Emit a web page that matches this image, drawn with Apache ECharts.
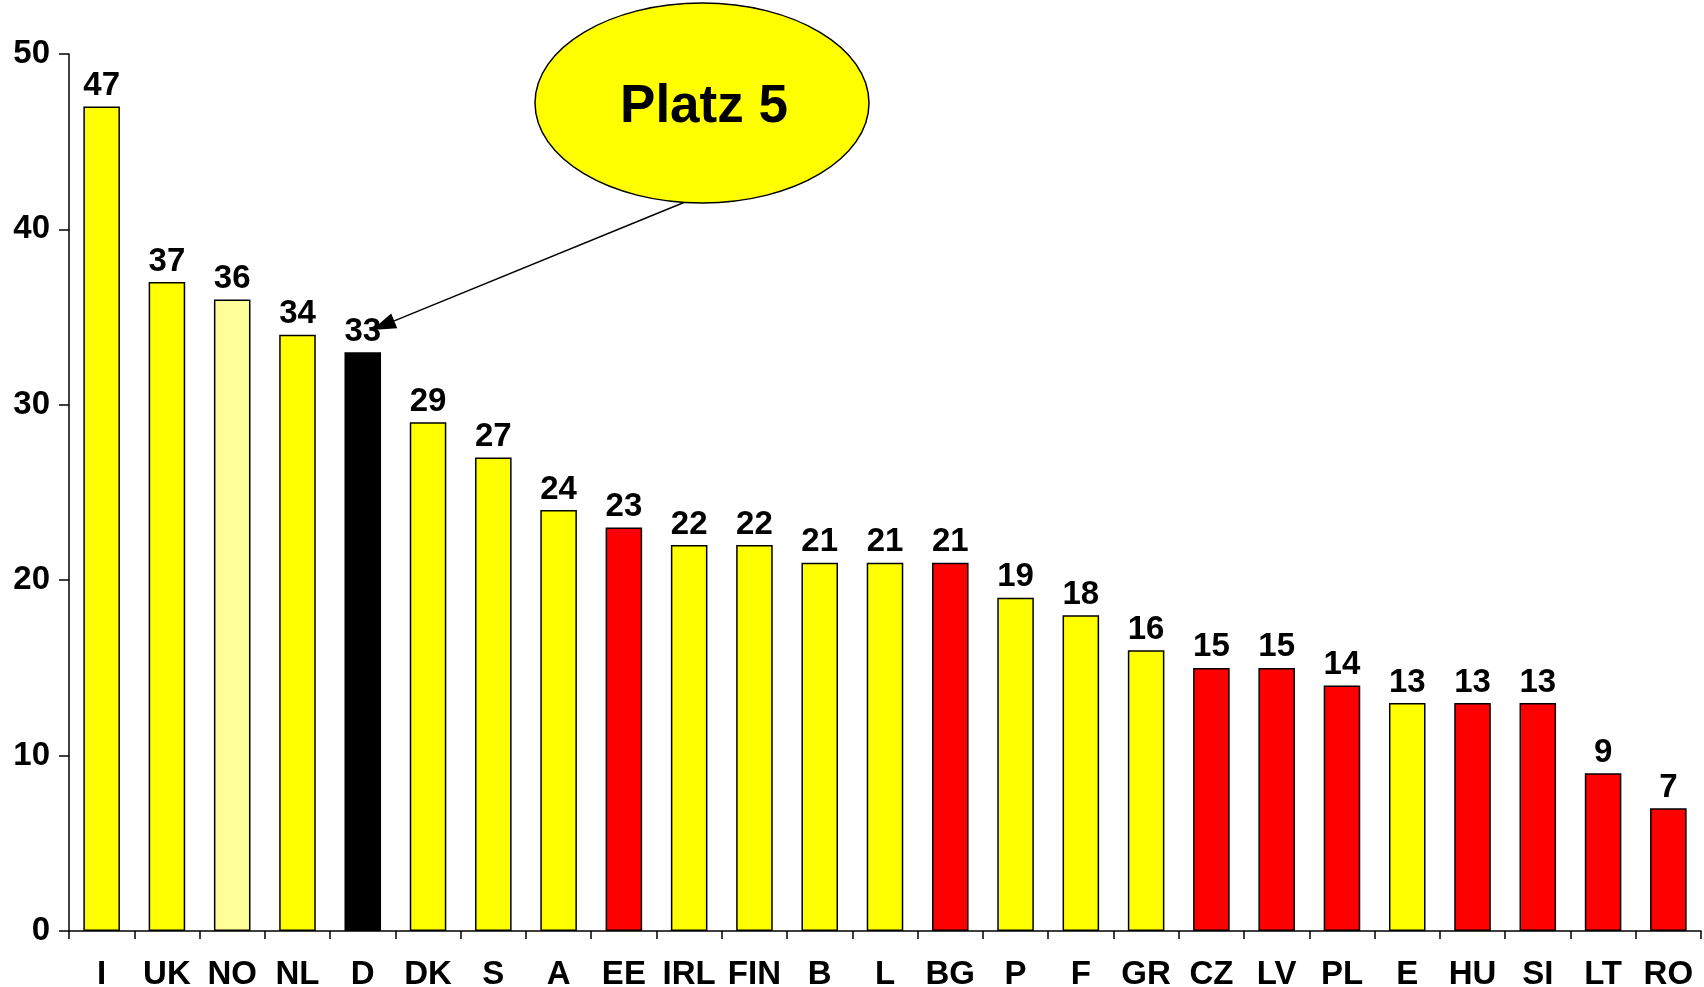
<!DOCTYPE html>
<html>
<head>
<meta charset="utf-8">
<script src="https://cdn.jsdelivr.net/npm/echarts@6/dist/echarts.min.js"></script>
<style>
html,body{margin:0;padding:0;background:#fff;}
#chart{width:1704px;height:987px;}
</style>
</head>
<body>
<div id="chart"></div>
<script>
const categories = ['I','UK','NO','NL','D','DK','S','A','EE','IRL','FIN','B','L','BG','P','F','GR','CZ','LV','PL','E','HU','SI','LT','RO'];
const values = [47,37,36,34,33,29,27,24,23,22,22,21,21,21,19,18,16,15,15,14,13,13,13,9,7];
const colorGroups = ['Y','Y','LY','Y','K','Y','Y','Y','R','Y','Y','Y','Y','R','Y','Y','Y','R','R','R','Y','R','R','R','R'];
const yTicks = [0,10,20,30,40,50];
const annotationText = 'Platz 5';

const palette = {Y:'#FFFF00', LY:'#FFFF99', K:'#000000', R:'#FF0000'};
const FONT = "'Liberation Sans', Arial, sans-serif";

const chart = echarts.init(document.getElementById('chart'));

const data = values.map((v,i)=>({value:v, itemStyle:{color:palette[colorGroups[i]]}}));

// arrow geometry (annotation, pixel space)
const tail = [690,200], tip = [372,330];
const dx = tip[0]-tail[0], dy = tip[1]-tail[1];
const len = Math.sqrt(dx*dx+dy*dy);
const ux = dx/len, uy = dy/len;
const hl = 24, hw = 8;
const bx = tip[0]-ux*hl, by = tip[1]-uy*hl;
const head = [[tip[0],tip[1]],[bx - uy*hw, by + ux*hw],[bx + uy*hw, by - ux*hw]];

chart.setOption({
  backgroundColor:'#fff',
  animation:false,
  grid:{left:69, right:3, top:54, bottom:56, containLabel:false, outerBoundsMode:'none'},
  xAxis:{
    type:'category',
    data:categories,
    axisLine:{lineStyle:{color:'#000', width:1.5}},
    axisTick:{show:true, length:8, lineStyle:{color:'#000', width:1.5}},
    axisLabel:{color:'#000', fontWeight:'bold', fontSize:33, fontFamily:FONT, margin:27, interval:0}
  },
  yAxis:{
    type:'value',
    min:yTicks[0], max:yTicks[yTicks.length-1], interval:10,
    splitLine:{show:false},
    axisLine:{show:true, lineStyle:{color:'#000', width:1.5}},
    axisTick:{show:true, length:10, lineStyle:{color:'#000', width:1.5}},
    axisLabel:{color:'#000', fontWeight:'bold', fontSize:33, fontFamily:FONT, margin:19, padding:[8,0,0,0]}
  },
  series:[{
    type:'bar',
    data:data,
    barWidth:'56%',
    itemStyle:{borderColor:'#000', borderWidth:1.5},
    label:{show:true, position:'top', distance:4, color:'#000', fontWeight:'bold', fontSize:33, fontFamily:FONT}
  }],
  graphic:[
    {type:'line', shape:{x1:tail[0], y1:tail[1], x2:bx, y2:by}, style:{stroke:'#000', lineWidth:1.5}, z:10},
    {type:'polygon', shape:{points:head}, style:{fill:'#000'}, z:10},
    {type:'ellipse', shape:{cx:702, cy:103, rx:167, ry:100}, style:{fill:'#FFFF00', stroke:'#000', lineWidth:1.5}, z:11},
    {type:'text', x:704, y:107, z:12, style:{text:annotationText, fill:'#000', font:"bold 53px 'Liberation Sans', Arial, sans-serif", textAlign:'center', textVerticalAlign:'middle'}}
  ]
});
</script>
</body>
</html>
